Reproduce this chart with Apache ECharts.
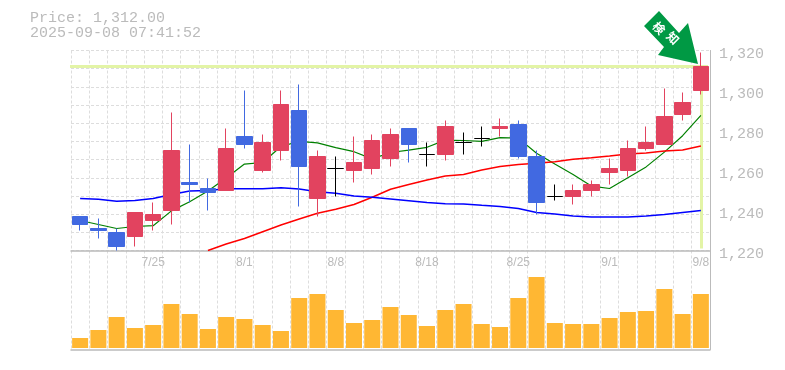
<!DOCTYPE html>
<html><head><meta charset="utf-8">
<style>html,body{margin:0;padding:0;background:#fff}#c{width:785px;height:370px}</style>
<script src="https://cdn.jsdelivr.net/npm/echarts@6/dist/echarts.min.js"></script>
</head><body><div id="c"></div>
<script>
const dates = ['7/18','7/22','7/23','7/24','7/25','7/28','7/29','7/30','7/31','8/1','8/4','8/5','8/6','8/7','8/8','8/12','8/13','8/14','8/15','8/18','8/19','8/20','8/21','8/22','8/25','8/26','8/27','8/28','8/29','9/1','9/2','9/3','9/4','9/5','9/8'];
const opens  = [1237,1231,1229,1227,1235,1240,1254,1251,1250,1277,1260,1270,1290,1246,1261,1260,1261,1266,1281,1268,1268,1274,1276,1281,1283,1267,1247,1247,1250,1259,1260,1271,1273,1288,1300];
const closes = [1233,1230,1222,1239,1238,1270,1253,1249,1271,1273,1274,1293,1262,1267,1261,1264,1275,1278,1273,1268,1282,1274,1276,1282,1267,1244,1247,1250,1253,1261,1271,1274,1287,1294,1312];
const highs  = [1237,1236,1231,1239,1244,1289,1273,1256,1281,1300,1278,1300,1303,1270,1267,1277,1278,1281,1281,1274,1285,1279,1282,1286,1285,1270,1253,1253,1255,1266,1275,1282,1301,1299,1319];
const lows   = [1230,1226,1220,1222,1230,1233,1244,1240,1250,1271,1259,1265,1242,1237,1247,1254,1258,1262,1264,1262,1265,1268,1272,1277,1266,1238,1245,1243,1247,1253,1257,1270,1273,1285,1298];
const volumes = [10,18,31,20,23,44,34,19,31,29,23,17,50,54,38,25,28,41,33,22,38,44,24,21,50,71,25,24,24,30,36,37,59,34,54];
const ma5  = [1235,1233,1231,1232,1232.4,1239.8,1244.4,1249.8,1256.2,1263.2,1264,1272,1274.6,1273.8,1271.4,1269.4,1265.8,1269,1270.2,1271.6,1275.2,1275,1274.6,1276.4,1276.2,1268.6,1263.2,1258,1252.2,1251,1256.4,1261.8,1269.2,1277.4,1287.6];
const ma25 = [null,null,null,null,null,null,null,1220,1223.25,1226,1229.4,1232.75,1235.75,1238.6,1240.6,1243,1246.6,1250.6,1253,1255.25,1257.25,1258,1260.25,1262,1263,1263.6,1264.4,1265.6,1266.4,1267.25,1268.25,1268.75,1269.75,1270.25,1272.25];
const ma75 = [1246,1245.6,1244.6,1245,1246,1248,1249.75,1250,1250.9,1250.9,1250.9,1251.4,1250.7,1249.4,1248.6,1247.25,1246.6,1245.75,1244.9,1244,1243.4,1243.25,1242.6,1242,1241,1239,1238.25,1237.25,1236.75,1236.75,1236.75,1237.25,1238,1239,1240];
const priceTicks = [1220,1240,1260,1280,1300,1320];
const lastPrice = 1312;
const infoLines = ['Price: 1,312.00','2025-09-08 07:41:52'];
const badge = ['検','知'];

const GRAY='#bbbbbb', GRID='#dddddd', FONT='"Liberation Mono",monospace';
const RED='#e2435f', BLUE='#4169e1', BLACK='#000000', MARK='#e3f4a6';
const dash={color:GRID,type:[3,2],width:1};
const volMin=-1.5, volMax=97.5;

const chart=echarts.init(document.getElementById('c'),null,{renderer:'canvas'});
function catAxis(i,showLabel){return {
  type:'category',gridIndex:i,data:dates,boundaryGap:true,
  axisLine:{show:true,onZero:false,lineStyle:{color:GRAY,width:1.5}},
  axisTick:{show:false},
  axisLabel:{show:showLabel,interval:(idx)=>(idx+1)%5===0,fontFamily:'"Liberation Sans",sans-serif',fontSize:12,color:GRAY,margin:6,
    hideOverlap:false,showMaxLabel:true,showMinLabel:true},
  splitLine:{show:true,interval:0,lineStyle:dash}
};}
chart.setOption({
  animation:false,
  textStyle:{fontFamily:FONT},
  grid:[
    {left:71,right:75,top:50.5,height:200,containLabel:false},
    {left:71,right:75,top:250.5,height:99,containLabel:false}
  ],
  xAxis:[catAxis(0,true),catAxis(1,false)],
  yAxis:[
    {type:'value',gridIndex:0,position:'right',min:1220,max:1320,interval:20,
     axisLine:{show:true,lineStyle:{color:GRAY,width:1}},axisTick:{show:false},splitLine:{show:false},
     axisLabel:{show:true,color:GRAY,fontFamily:FONT,fontSize:15,margin:9,showMinLabel:true,showMaxLabel:true,
       formatter:v=>priceTicks.includes(v)?v.toLocaleString('en-US'):'',
       verticalAlign:'top',lineHeight:8}},
    {type:'value',gridIndex:0,position:'left',min:0,max:11,interval:1,
     axisLine:{show:false},axisTick:{show:false},axisLabel:{show:false},splitLine:{show:true,lineStyle:dash}},
    {type:'value',gridIndex:1,position:'right',min:volMin,max:volMax,
     axisLine:{show:true,lineStyle:{color:GRAY,width:1}},axisTick:{show:false},axisLabel:{show:false},splitLine:{show:false}}
  ],
  series:[
    {type:'line',name:'mark',xAxisIndex:0,yAxisIndex:0,data:[],z:1,silent:true,
     markLine:{silent:true,z:1,symbol:'none',label:{show:false},animation:false,
       lineStyle:{color:MARK,width:3,type:'solid'},
       data:[[{xAxis:dates[0],yAxis:lastPrice,x:70},{xAxis:dates[34],yAxis:lastPrice,x:708}],
             [{xAxis:dates[34],yAxis:lastPrice},{xAxis:dates[34],yAxis:1221}]]}},
    {type:'line',xAxisIndex:0,yAxisIndex:0,data:ma5,symbol:'none',z:2,lineStyle:{color:'#008000',width:1.2}},
    {type:'line',xAxisIndex:0,yAxisIndex:0,data:ma25,symbol:'none',z:2,lineStyle:{color:'#ff0000',width:1.5}},
    {type:'line',xAxisIndex:0,yAxisIndex:0,data:ma75,symbol:'none',z:2,lineStyle:{color:'#0000ff',width:1.5}},
    {type:'candlestick',xAxisIndex:0,yAxisIndex:0,z:3,barWidth:16,
     data:dates.map((d,i)=>{
       const doji=opens[i]===closes[i];
       const col=doji?BLACK:(closes[i]>opens[i]?RED:BLUE);
       return {value:[opens[i],closes[i],lows[i],highs[i]],
         itemStyle:{color:col,color0:col,borderColor:col,borderColor0:col,borderColorDoji:col,borderWidth:1}};
     })},
    {type:'bar',xAxisIndex:1,yAxisIndex:2,data:volumes,barWidth:16,z:3,itemStyle:{color:'#ffb733'}}
  ],
  graphic:[
    {type:'text',left:30,top:11,style:{text:infoLines[0],fill:GRAY,font:'15px '+FONT}},
    {type:'text',left:30,top:26,style:{text:infoLines[1],fill:GRAY,font:'15px '+FONT}},
    {type:'polygon',z:10,shape:{points:[[659,11],[679,33],[688,23],[698,64],[658,55],[664,47],[644,26]]},style:{fill:'#009944'}},
    {type:'text',z:11,x:659,y:28,rotation:-Math.PI/4,style:{text:badge[0],fill:'#ffffff',font:'bold 12px "Noto Sans CJK JP"',align:'center',verticalAlign:'middle'}},
    {type:'text',z:11,x:673,y:38,rotation:-Math.PI/4,style:{text:badge[1],fill:'#ffffff',font:'bold 12px "Noto Sans CJK JP"',align:'center',verticalAlign:'middle'}}
  ]
});
</script></body></html>
